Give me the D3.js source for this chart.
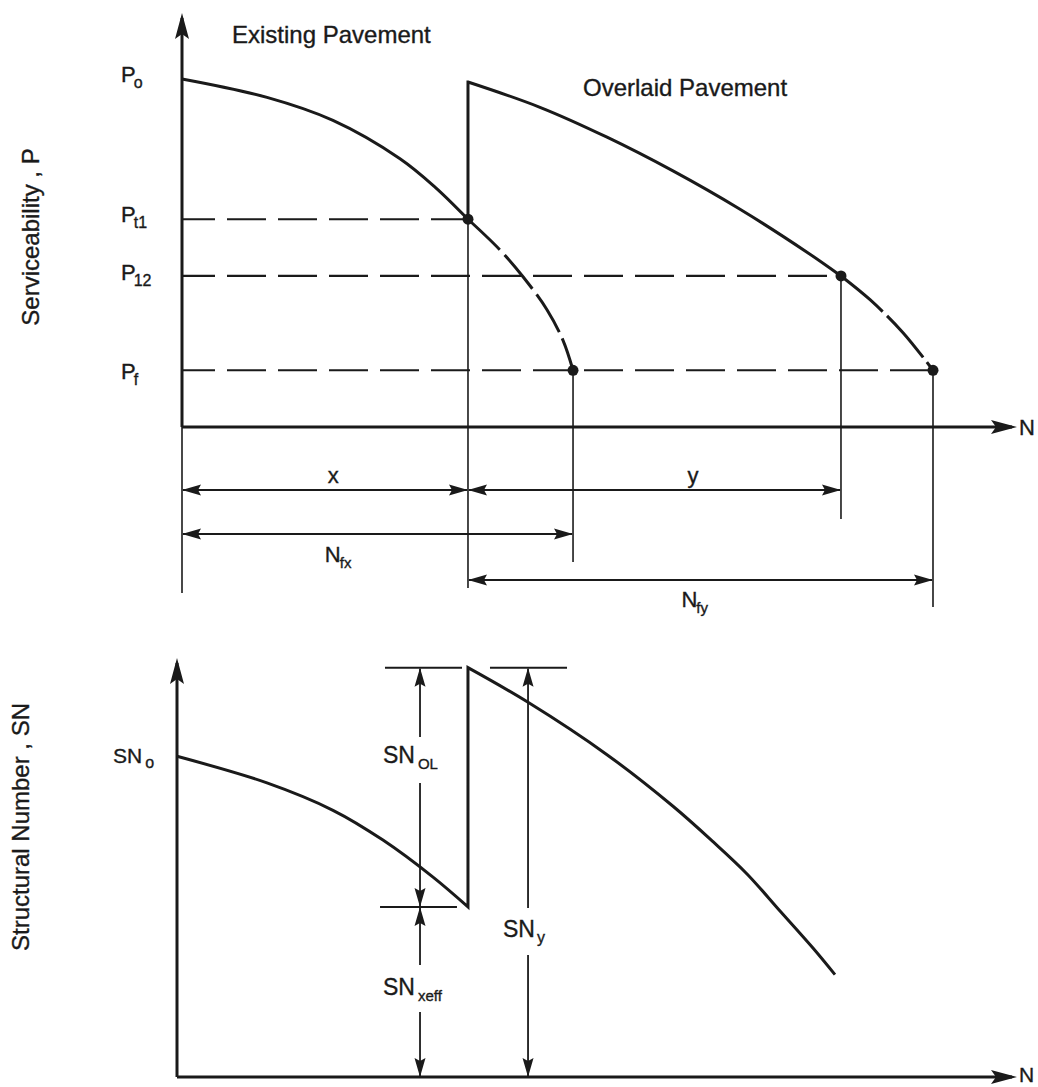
<!DOCTYPE html>
<html>
<head>
<meta charset="utf-8">
<title>Serviceability and structural number versus traffic</title>
<script src="https://d3js.org/d3.v7.min.js"></script>
<style>
  body { margin: 0; background: #fff; }
  svg { display: block; }
  text { font-family: "Liberation Sans", Arial, Helvetica, sans-serif; fill: #1a1a1a; stroke: #1a1a1a; stroke-width: 0.35px; }
</style>
</head>
<body>
<div id="chart"></div>
<script>
// ---- data ----
// serviceability levels on the P axis
const pLevelNames = ["o", "t1", "12", "f"];
const pLevelValues = [4.54, 2.71, 1.97, 0.74];

// existing pavement: solid down to Pt1, dashed down to Pf  ([N, P])
const existingP = [[0, 4.54], [10.18, 4.30], [18.08, 4.00], [26.11, 3.50], [30.30, 3.13], [34.25, 2.71]];
const existingPDash = [[34.25, 2.71], [38.08, 2.31], [40.84, 1.96], [43.71, 1.53], [45.63, 1.13], [46.83, 0.74]];
// overlaid pavement: solid down to P12, dashed down to Pf
const overlayP = [[34.25, 4.50], [42.87, 4.17], [50.90, 3.78], [58.80, 3.34], [66.83, 2.84], [74.85, 2.28], [78.92, 1.97]];
const overlayPDash = [[78.92, 1.97], [82.40, 1.66], [86.35, 1.23], [89.94, 0.74]];

// points marked with dots
const markedPoints = [[34.25, 2.71], [46.83, 0.74], [78.92, 1.97], [89.94, 0.74]];

// traffic spans below the top chart
const spanNames = ["x", "y", "N", "N"];
const spanSubs = ["", "", "fx", "fy"];
const spanFrom = [0, 34.25, 0, 34.25];
const spanTo = [34.25, 78.92, 46.83, 89.94];

// structural number ([N, SN])
const existingSN = [[0, 3.98], [10.71, 3.65], [18.57, 3.31], [24.52, 2.94], [30.48, 2.48], [34.64, 2.11]];
const overlaySN = [[34.64, 5.08], [41.79, 4.65], [51.19, 4.00], [59.05, 3.36], [63.81, 2.92], [67.86, 2.52], [71.79, 2.06], [75.71, 1.60], [78.33, 1.27]];
const snOverlay = 5.08, snEff = 2.11;

// ---- layout ----
const W = 1038, H = 1087;
const ink = "#1a1a1a";

const xTop = d3.scaleLinear().domain([0, 100]).range([182, 1017]);
const yTop = d3.scaleLinear().domain([0, 5.4]).range([427, 13]);
const xBot = d3.scaleLinear().domain([0, 100]).range([177, 1017]);
const yBot = d3.scaleLinear().domain([0, 5.2]).range([1077, 658]);

const svg = d3.select("#chart").append("svg")
  .attr("width", W).attr("height", H);

const defs = svg.append("defs");
defs.append("marker")
  .attr("id", "axisHead")
  .attr("viewBox", "-24 -8 30 16")
  .attr("refX", 0).attr("refY", 0)
  .attr("markerWidth", 30).attr("markerHeight", 16)
  .attr("markerUnits", "userSpaceOnUse")
  .attr("orient", "auto")
  .append("path")
  .attr("d", "M5,0L-21,-7L-16,0L-21,7Z")
  .attr("fill", ink);
defs.append("marker")
  .attr("id", "dimHead")
  .attr("viewBox", "-20 -7 22 14")
  .attr("refX", 0).attr("refY", 0)
  .attr("markerWidth", 22).attr("markerHeight", 14)
  .attr("markerUnits", "userSpaceOnUse")
  .attr("orient", "auto-start-reverse")
  .append("path")
  .attr("d", "M1,0L-18,-5.5L-15,0L-18,5.5Z")
  .attr("fill", ink);

function seg(g, pts, width, dash) {
  const p = g.append("path")
    .attr("d", d3.line()(pts))
    .attr("fill", "none")
    .attr("stroke", ink)
    .attr("stroke-width", width);
  if (dash) p.attr("stroke-dasharray", dash);
  return p;
}

function label(g, x, y, main, sub, size, subSize, dx, dy, anchor) {
  const t = g.append("text")
    .attr("x", x).attr("y", y)
    .attr("font-size", size)
    .attr("text-anchor", anchor || "start");
  t.append("tspan").text(main);
  if (sub) t.append("tspan").attr("dx", dx).attr("dy", dy).attr("font-size", subSize).text(sub);
  return t;
}

// ================= top chart: serviceability =================
const gTop = svg.append("g");
const lineTop = d3.line().x(d => xTop(d[0])).y(d => yTop(d[1])).curve(d3.curveCatmullRom.alpha(0.5));

// horizontal dashed level lines to each curve
const levelEnds = [null, 34.25, 78.92, 89.94];
pLevelValues.forEach((v, i) => {
  if (levelEnds[i] === null) return;
  seg(gTop, [[xTop(0), yTop(v)], [xTop(levelEnds[i]), yTop(v)]], 2.2, "39,12")
    .attr("stroke-dashoffset", 6);
});

// extension lines down to the dimension rows
const extN = [0, 34.25, 46.83, 78.92, 89.94];
const extFrom = [0, 2.71, 0.74, 1.97, 0.74];
const extBottom = [593, 588, 562, 519, 607];
extN.forEach((n, i) => {
  seg(gTop, [[xTop(n), yTop(extFrom[i])], [xTop(n), extBottom[i]]], 1.6);
});

// axes
seg(gTop, [[xTop(0), yTop(0)], [xTop.range()[1] - 5, yTop(0)]], 3).attr("marker-end", "url(#axisHead)");
seg(gTop, [[xTop(0), yTop(0)], [xTop(0), yTop.range()[1] + 5]], 3).attr("marker-end", "url(#axisHead)");
gTop.append("text").attr("x", 1019).attr("y", yTop(0) + 8).attr("font-size", 22).text("N");

// curves: existing, jump to overlay, overlay (one path for sharp corners)
const jumpTop = "L" + xTop(overlayP[0][0]) + "," + yTop(overlayP[0][1]);
gTop.append("path")
  .attr("d", lineTop(existingP) + jumpTop + lineTop(overlayP).replace(/^M/, "L"))
  .attr("fill", "none").attr("stroke", ink).attr("stroke-width", 3)
  .attr("stroke-linejoin", "miter");
gTop.append("path").attr("d", lineTop(existingPDash))
  .attr("fill", "none").attr("stroke", ink).attr("stroke-width", 3)
  .attr("stroke-dasharray", "44,7");
gTop.append("path").attr("d", lineTop(overlayPDash))
  .attr("fill", "none").attr("stroke", ink).attr("stroke-width", 3)
  .attr("stroke-dasharray", "55,6");

gTop.selectAll("circle.pt").data(markedPoints).join("circle")
  .attr("class", "pt")
  .attr("cx", d => xTop(d[0])).attr("cy", d => yTop(d[1]))
  .attr("r", 5.5).attr("fill", ink);

// level labels
const levelDy = [3, 3, 4, 9];
pLevelValues.forEach((v, i) => {
  label(gTop, 121, yTop(v) + levelDy[i], "P", pLevelNames[i], 22, 16, -2, 6);
});

// titles
gTop.append("text").attr("x", 232).attr("y", 43).attr("font-size", 24).text("Existing Pavement");
gTop.append("text").attr("x", 583).attr("y", 96).attr("font-size", 24).text("Overlaid Pavement");
gTop.append("text")
  .attr("transform", "translate(39,237) rotate(-90)")
  .attr("text-anchor", "middle").attr("font-size", 24)
  .text("Serviceability , P");

// dimension rows
const spanRow = [490, 490, 534, 580];
const spanLabelN = [18.1, 61.2, 18.7, 61.4];
const spanLabelY = [483, 483, 562, 607];
spanNames.forEach((nm, i) => {
  seg(gTop, [[xTop(spanFrom[i]) + 1, spanRow[i]], [xTop(spanTo[i]) - 1, spanRow[i]]], 2)
    .attr("marker-start", "url(#dimHead)")
    .attr("marker-end", "url(#dimHead)");
  label(gTop, xTop(spanLabelN[i]), spanLabelY[i], nm, spanSubs[i], 22, 15, -1, 6, "middle");
});

// ================= bottom chart: structural number =================
const gBot = svg.append("g");
const lineBot = d3.line().x(d => xBot(d[0])).y(d => yBot(d[1])).curve(d3.curveCatmullRom.alpha(0.5));

seg(gBot, [[xBot(0), yBot(0)], [xBot.range()[1] - 5, yBot(0)]], 3).attr("marker-end", "url(#axisHead)");
seg(gBot, [[xBot(0), yBot(0)], [xBot(0), yBot.range()[1] + 5]], 3).attr("marker-end", "url(#axisHead)");
gBot.append("text").attr("x", 1019).attr("y", yBot(0) + 5).attr("font-size", 21).text("N");

const jumpBot = "L" + xBot(overlaySN[0][0]) + "," + yBot(overlaySN[0][1]);
gBot.append("path")
  .attr("d", lineBot(existingSN) + jumpBot + lineBot(overlaySN).replace(/^M/, "L"))
  .attr("fill", "none").attr("stroke", ink).attr("stroke-width", 3)
  .attr("stroke-linejoin", "miter");

// tick lines at overlay and effective SN
seg(gBot, [[xBot(24.76), yBot(snOverlay)], [xBot(33.93), yBot(snOverlay)]], 2);
seg(gBot, [[xBot(37.26), yBot(snOverlay)], [xBot(46.43), yBot(snOverlay)]], 2);
seg(gBot, [[xBot(24.17), yBot(snEff)], [xBot(33.33), yBot(snEff)]], 2);

// vertical dimension arrows, split around their labels
const snDimN = [28.93, 28.93, 41.79];
const snDimFrom = [snOverlay, snEff, snOverlay];
const snDimTo = [snEff, 0, 0];
const snGap = [[737, 783], [965, 1012], [908, 955]];
snDimN.forEach((n, i) => {
  const x = xBot(n);
  seg(gBot, [[x, snGap[i][0]], [x, yBot(snDimFrom[i]) + 1]], 1.8).attr("marker-end", "url(#dimHead)");
  seg(gBot, [[x, snGap[i][1]], [x, yBot(snDimTo[i]) - 1]], 1.8).attr("marker-end", "url(#dimHead)");
});

label(gBot, 113, 763, "SN", "o", 21, 16, 3, 5);
label(gBot, 383, 763, "SN", "OL", 23, 15, 3, 6);
label(gBot, 383, 995, "SN", "xeff", 23, 15, 3, 6);
label(gBot, 503, 937, "SN", "y", 23, 16, 2, 6);

gBot.append("text")
  .attr("transform", "translate(29,827) rotate(-90)")
  .attr("text-anchor", "middle").attr("font-size", 24)
  .text("Structural Number , SN");
</script>
</body>
</html>
